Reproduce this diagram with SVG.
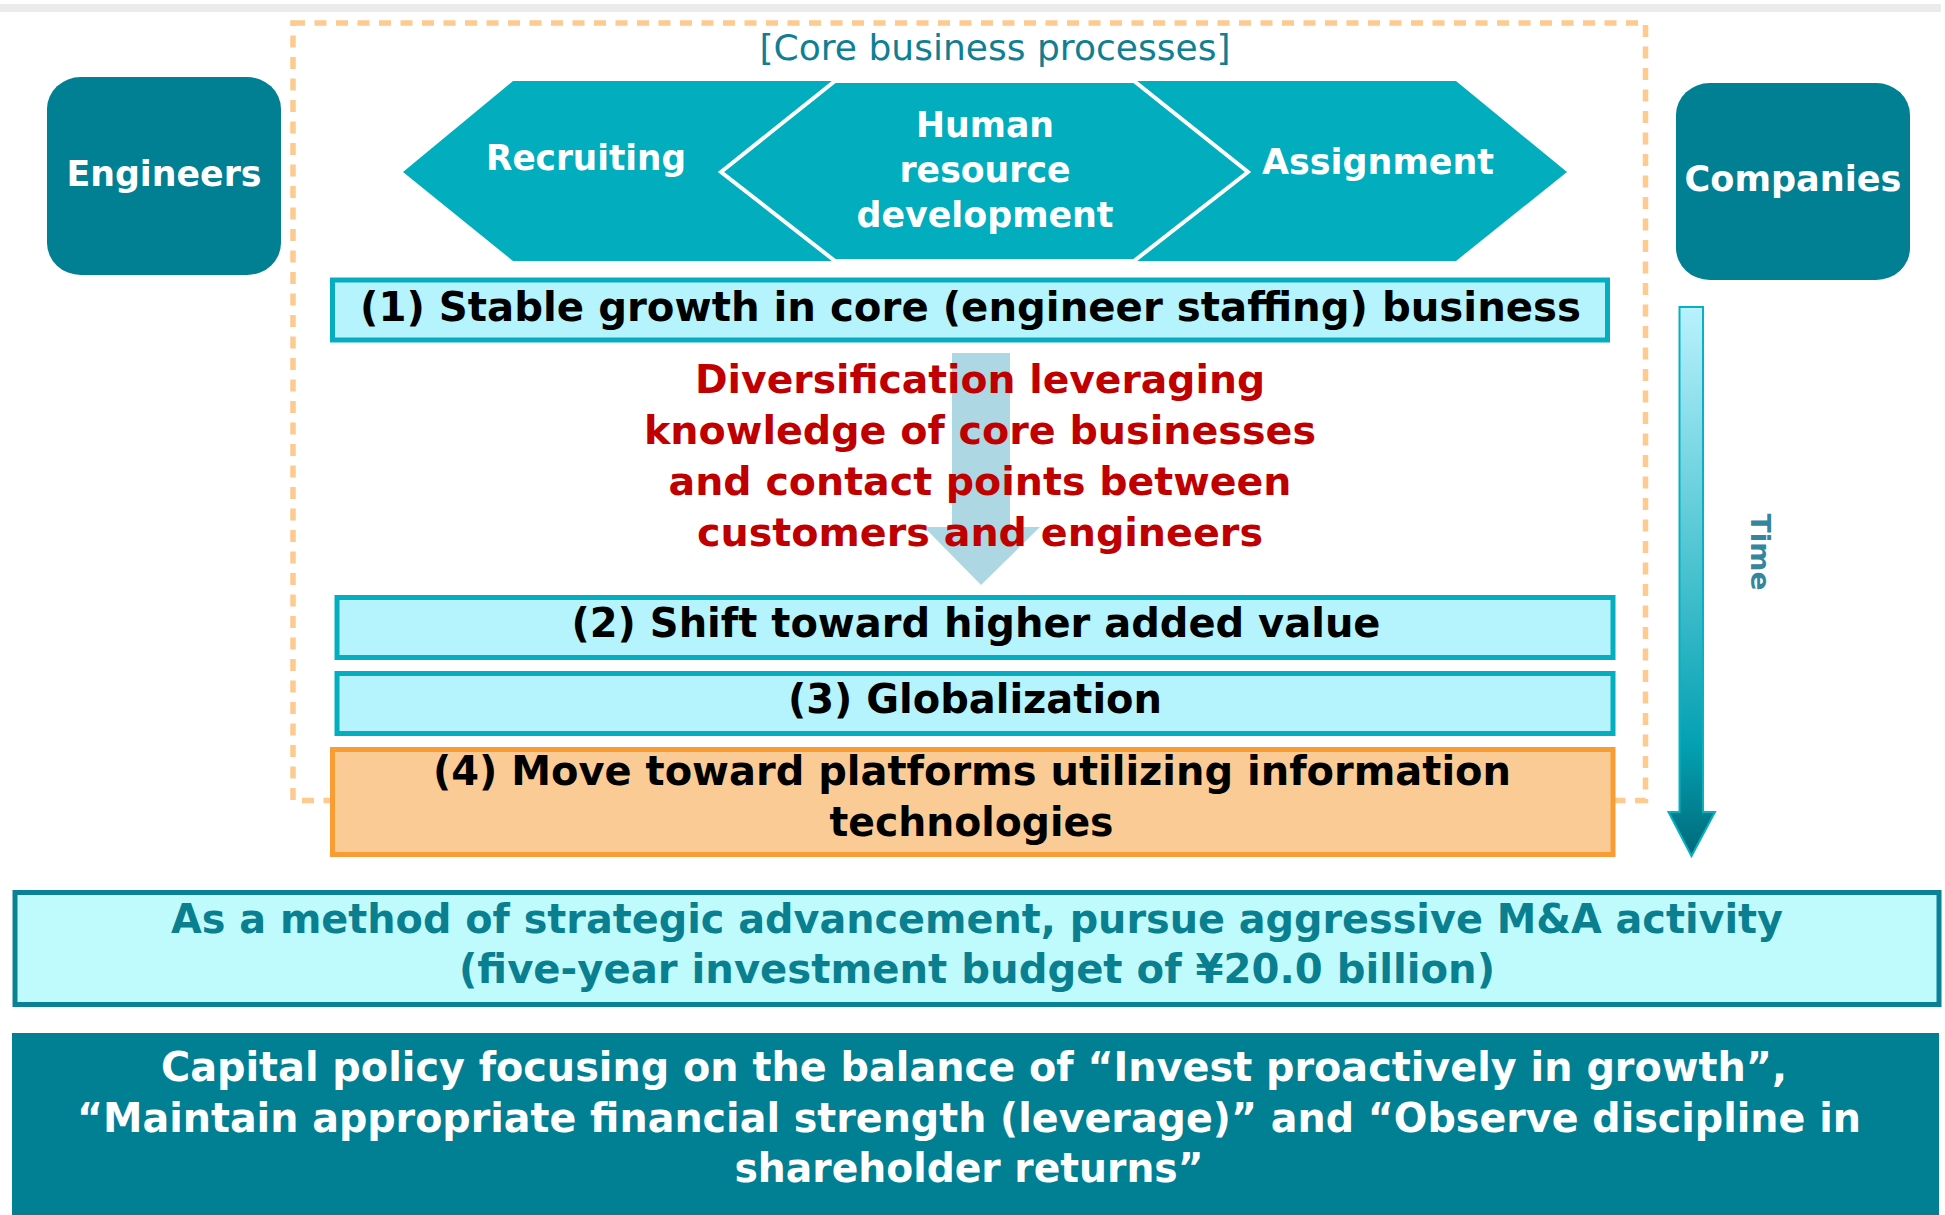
<svg xmlns="http://www.w3.org/2000/svg" width="1945" height="1215" viewBox="0 0 1945 1215">
<defs>
<linearGradient id="timeGrad" x1="0" y1="0" x2="0" y2="1">
<stop offset="0" stop-color="#b8f2fd"/>
<stop offset="0.5" stop-color="#45c0ce"/>
<stop offset="0.8" stop-color="#03a0b2"/>
<stop offset="1" stop-color="#006a79"/>
</linearGradient>
</defs>
<style>
text{font-family:"DejaVu Sans","Liberation Sans",sans-serif;text-anchor:middle}
.b{font-weight:bold}
.hex{fill:#02adbe}
.wt{fill:#ffffff;font-weight:bold;font-size:36px}
.step{fill:#b5f3fd;stroke:#04adbf;stroke-width:5}
.stept{fill:#000000;font-weight:bold;font-size:40px}
.red{fill:#c00000;font-weight:bold;font-size:39px}
.actor{fill:#017f93}
</style>
<rect x="0" y="4" width="1941" height="8" fill="#ebebeb"/>
<g id="core-frame">
<rect x="293" y="23" width="1352.5" height="777.5" fill="none" stroke="#fdca90" stroke-width="5.5" stroke-dasharray="12,9.5"/>
<text x="995" y="60" font-size="36" fill="#107f93" textLength="471" lengthAdjust="spacingAndGlyphs">[Core business processes]</text>
</g>
<g id="engineers">
<rect class="actor" x="47" y="77" width="234" height="198" rx="34" ry="32"/>
<text class="wt" x="164" y="186" textLength="195" lengthAdjust="spacingAndGlyphs">Engineers</text>
</g>
<g id="companies">
<rect class="actor" x="1676" y="83" width="234" height="197" rx="34" ry="32"/>
<text class="wt" x="1793" y="191" textLength="217" lengthAdjust="spacingAndGlyphs">Companies</text>
</g>
<g id="recruiting">
<polygon class="hex" points="403,172 513,81 840,81 1000,172 840,261 513,261"/>
<text class="wt" x="586" y="170" textLength="200" lengthAdjust="spacingAndGlyphs">Recruiting</text>
</g>
<g id="assignment">
<polygon class="hex" points="960,172 1130,81 1456,81 1567,172 1456,261 1130,261"/>
<text class="wt" x="1378" y="174" textLength="232" lengthAdjust="spacingAndGlyphs">Assignment</text>
</g>
<g id="hr-development">
<polygon class="hex" points="721,172 835,81 1134,81 1248,172 1134,261 835,261" stroke="#ffffff" stroke-width="4" stroke-linejoin="miter"/>
<text class="wt" x="985" y="137" textLength="138" lengthAdjust="spacingAndGlyphs">Human</text>
<text class="wt" x="985" y="182" textLength="171" lengthAdjust="spacingAndGlyphs">resource</text>
<text class="wt" x="985" y="227" textLength="257" lengthAdjust="spacingAndGlyphs">development</text>
</g>
<g id="step1">
<rect class="step" x="332.5" y="280" width="1275" height="60"/>
<text class="stept" x="970.5" y="321" textLength="1221" lengthAdjust="spacingAndGlyphs">(1) Stable growth in core (engineer staffing) business</text>
</g>
<g id="connectors">
<polygon points="952,353 1010,353 1010,527 1040,527 981,585 924,527 952,527" fill="#acd7e3"/>
<polygon points="1679.5,307 1703,307 1703,812 1715,812 1691.5,856 1668.5,812 1679.5,812" fill="url(#timeGrad)" stroke="#08b0c2" stroke-width="2"/>
</g>
<g id="diversification">
<text class="red" x="980" y="393" textLength="570" lengthAdjust="spacingAndGlyphs">Diversification leveraging</text>
<text class="red" x="980" y="444" textLength="672" lengthAdjust="spacingAndGlyphs">knowledge of core businesses</text>
<text class="red" x="980" y="495" textLength="623" lengthAdjust="spacingAndGlyphs">and contact points between</text>
<text class="red" x="980" y="546" textLength="566" lengthAdjust="spacingAndGlyphs">customers and engineers</text>
</g>
<g id="time-label">
<text transform="translate(1751,552) rotate(90)" x="0" y="0" font-size="27" font-weight="bold" fill="#35869c" textLength="77" lengthAdjust="spacingAndGlyphs">Time</text>
</g>
<g id="step2">
<rect class="step" x="337" y="597.5" width="1276" height="60"/>
<text class="stept" x="976" y="637" textLength="809" lengthAdjust="spacingAndGlyphs">(2) Shift toward higher added value</text>
</g>
<g id="step3">
<rect class="step" x="337" y="673.5" width="1276" height="60"/>
<text class="stept" x="975" y="713" textLength="374" lengthAdjust="spacingAndGlyphs">(3) Globalization</text>
</g>
<g id="step4">
<rect x="332.5" y="749.5" width="1280.5" height="105" fill="#fbcb96" stroke="#f89c33" stroke-width="5"/>
<text class="stept" x="972" y="785" textLength="1078" lengthAdjust="spacingAndGlyphs">(4) Move toward platforms utilizing information</text>
<text class="stept" x="971.5" y="836" textLength="284" lengthAdjust="spacingAndGlyphs">technologies</text>
</g>
<g id="m-and-a">
<rect x="15" y="892.5" width="1924" height="112" fill="#bffbfd" stroke="#0a8194" stroke-width="5"/>
<text class="b" x="977" y="933" font-size="40" fill="#0a7f90" textLength="1612" lengthAdjust="spacingAndGlyphs">As a method of strategic advancement, pursue aggressive M&amp;A activity</text>
<text class="b" x="977" y="983" font-size="40" fill="#0a7f90" textLength="1036" lengthAdjust="spacingAndGlyphs">(five-year investment budget of ¥20.0 billion)</text>
</g>
<g id="capital-policy">
<rect x="12" y="1033" width="1927" height="190" fill="#017f93"/>
<text class="b" x="974" y="1081" font-size="40" fill="#ffffff" textLength="1626" lengthAdjust="spacingAndGlyphs">Capital policy focusing on the balance of “Invest proactively in growth”,</text>
<text class="b" x="969" y="1132" font-size="40" fill="#ffffff" textLength="1784" lengthAdjust="spacingAndGlyphs">“Maintain appropriate financial strength (leverage)” and “Observe discipline in</text>
<text class="b" x="969" y="1182" font-size="40" fill="#ffffff" textLength="469" lengthAdjust="spacingAndGlyphs">shareholder returns”</text>
</g>
</svg>
